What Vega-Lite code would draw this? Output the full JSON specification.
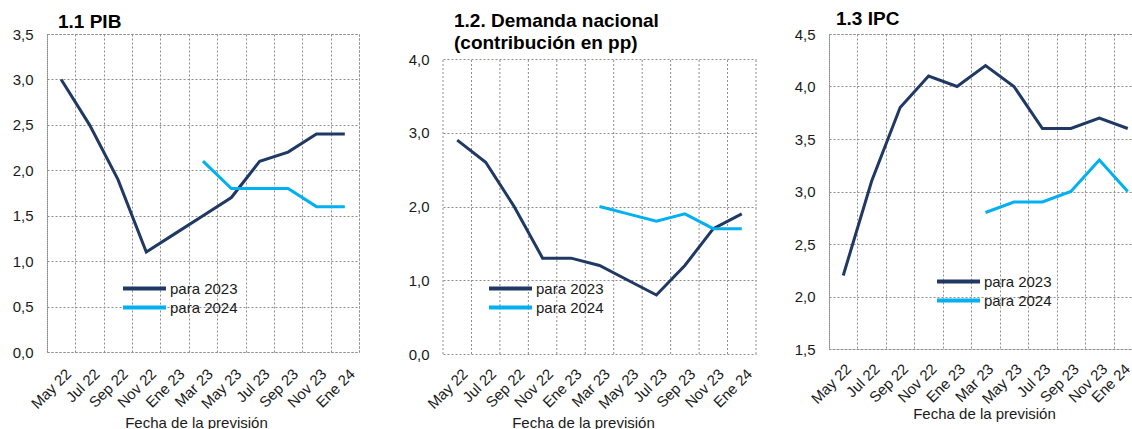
{
  "$schema": "https://vega.github.io/schema/vega-lite/v6.json",
  "padding": {"left": 8, "top": 9, "right": 0, "bottom": 0},
  "background": "white",
  "spacing": 10,
  "config": {
    "font": "Liberation Sans",
    "view": {"stroke": "#8c8c8c", "strokeDash": [2, 2], "strokeWidth": 1},
    "axis": {
      "labelFont": "Liberation Sans",
      "labelFontSize": 15,
      "labelColor": "#1a1a1a",
      "titleFont": "Liberation Sans",
      "titleFontSize": 15,
      "titleFontWeight": "normal",
      "titleColor": "#1a1a1a",
      "domain": false,
      "ticks": false,
      "grid": true,
      "gridColor": "#8c8c8c",
      "gridDash": [2, 2],
      "gridWidth": 1,
      "gridOpacity": 1
    },
    "title": {"font": "Liberation Sans", "fontSize": 19, "fontWeight": "bold", "color": "#000000", "anchor": "start", "frame": "group", "dx": 11, "lineHeight": 22, "baseline": "alphabetic"},
    "legend": {
      "orient": "none",
      "title": null,
      "symbolType": "M-3,0H3",
      "symbolSize": 205,
      "symbolStrokeWidth": 4,
      "labelFont": "Liberation Sans",
      "labelFontSize": 15,
      "labelColor": "#1a1a1a",
      "labelOffset": 16,
      "rowPadding": 1,
      "padding": 0
    }
  },
  "datasets": {
    "pib": [
      {"fecha": "May 22", "serie": "para 2023", "valor": 3.0},
      {"fecha": "Jul 22", "serie": "para 2023", "valor": 2.5},
      {"fecha": "Sep 22", "serie": "para 2023", "valor": 1.9},
      {"fecha": "Nov 22", "serie": "para 2023", "valor": 1.1},
      {"fecha": "Ene 23", "serie": "para 2023", "valor": 1.3},
      {"fecha": "Mar 23", "serie": "para 2023", "valor": 1.5},
      {"fecha": "May 23", "serie": "para 2023", "valor": 1.7},
      {"fecha": "Jul 23", "serie": "para 2023", "valor": 2.1},
      {"fecha": "Sep 23", "serie": "para 2023", "valor": 2.2},
      {"fecha": "Nov 23", "serie": "para 2023", "valor": 2.4},
      {"fecha": "Ene 24", "serie": "para 2023", "valor": 2.4},
      {"fecha": "Mar 23", "serie": "para 2024", "valor": 2.1},
      {"fecha": "May 23", "serie": "para 2024", "valor": 1.8},
      {"fecha": "Jul 23", "serie": "para 2024", "valor": 1.8},
      {"fecha": "Sep 23", "serie": "para 2024", "valor": 1.8},
      {"fecha": "Nov 23", "serie": "para 2024", "valor": 1.6},
      {"fecha": "Ene 24", "serie": "para 2024", "valor": 1.6}
    ],
    "dn": [
      {"fecha": "May 22", "serie": "para 2023", "valor": 2.9},
      {"fecha": "Jul 22", "serie": "para 2023", "valor": 2.6},
      {"fecha": "Sep 22", "serie": "para 2023", "valor": 2.0},
      {"fecha": "Nov 22", "serie": "para 2023", "valor": 1.3},
      {"fecha": "Ene 23", "serie": "para 2023", "valor": 1.3},
      {"fecha": "Mar 23", "serie": "para 2023", "valor": 1.2},
      {"fecha": "May 23", "serie": "para 2023", "valor": 1.0},
      {"fecha": "Jul 23", "serie": "para 2023", "valor": 0.8},
      {"fecha": "Sep 23", "serie": "para 2023", "valor": 1.2},
      {"fecha": "Nov 23", "serie": "para 2023", "valor": 1.7},
      {"fecha": "Ene 24", "serie": "para 2023", "valor": 1.9},
      {"fecha": "Mar 23", "serie": "para 2024", "valor": 2.0},
      {"fecha": "May 23", "serie": "para 2024", "valor": 1.9},
      {"fecha": "Jul 23", "serie": "para 2024", "valor": 1.8},
      {"fecha": "Sep 23", "serie": "para 2024", "valor": 1.9},
      {"fecha": "Nov 23", "serie": "para 2024", "valor": 1.7},
      {"fecha": "Ene 24", "serie": "para 2024", "valor": 1.7}
    ],
    "ipc": [
      {"fecha": "May 22", "serie": "para 2023", "valor": 2.2},
      {"fecha": "Jul 22", "serie": "para 2023", "valor": 3.1},
      {"fecha": "Sep 22", "serie": "para 2023", "valor": 3.8},
      {"fecha": "Nov 22", "serie": "para 2023", "valor": 4.1},
      {"fecha": "Ene 23", "serie": "para 2023", "valor": 4.0},
      {"fecha": "Mar 23", "serie": "para 2023", "valor": 4.2},
      {"fecha": "May 23", "serie": "para 2023", "valor": 4.0},
      {"fecha": "Jul 23", "serie": "para 2023", "valor": 3.6},
      {"fecha": "Sep 23", "serie": "para 2023", "valor": 3.6},
      {"fecha": "Nov 23", "serie": "para 2023", "valor": 3.7},
      {"fecha": "Ene 24", "serie": "para 2023", "valor": 3.6},
      {"fecha": "Mar 23", "serie": "para 2024", "valor": 2.8},
      {"fecha": "May 23", "serie": "para 2024", "valor": 2.9},
      {"fecha": "Jul 23", "serie": "para 2024", "valor": 2.9},
      {"fecha": "Sep 23", "serie": "para 2024", "valor": 3.0},
      {"fecha": "Nov 23", "serie": "para 2024", "valor": 3.3},
      {"fecha": "Ene 24", "serie": "para 2024", "valor": 3.0}
    ]
  },
  "resolve": {
    "scale": {"x": "independent", "y": "independent", "color": "independent"},
    "legend": {"color": "independent"}
  },
  "hconcat": [
    {
      "width": 312,
      "height": 318,
      "title": {"text": "1.1 PIB", "offset": -5},
      "data": {"name": "pib"},
      "mark": {"type": "line", "strokeWidth": 3},
      "encoding": {
        "x": {
          "field": "fecha", "type": "ordinal",
          "scale": {"type": "band", "padding": 0, "domain": ["May 22","Jul 22","Sep 22","Nov 22","Ene 23","Mar 23","May 23","Jul 23","Sep 23","Nov 23","Ene 24"]},
          "axis": {"title": "Fecha de la previsión", "labelAngle": -45, "labelAlign": "right", "labelBaseline": "top", "labelPadding": 14, "labelOffset": 2, "tickBand": "extent", "grid": true, "titleX": 149, "titleY": 70, "titleBaseline": "middle", "titleAnchor": "middle"}
        },
        "y": {
          "field": "valor", "type": "quantitative",
          "scale": {"domain": [0, 3.5], "nice": false, "zero": false},
          "axis": {"title": null, "values": [0, 0.5, 1, 1.5, 2, 2.5, 3, 3.5], "labelExpr": "replace(format(datum.value, '.1f'), '.', ',')", "labelPadding": 14, "minExtent": 38, "maxExtent": 38, "grid": true}
        },
        "color": {
          "field": "serie", "type": "nominal",
          "scale": {"domain": ["para 2023", "para 2024"], "range": ["#1f3864", "#00b0f0"]},
          "legend": {"legendX": 88, "legendY": 245}
        }
      }
    },
    {
      "width": 313,
      "height": 320,
      "view": {"stroke": null},
      "title": {"text": ["1.2. Demanda nacional", "(contribución en pp)"], "offset": -18.5},
      "data": {"name": "dn"},
      "layer": [
        {
          "transform": [{"filter": "datum.serie === 'para 2023'"}],
          "mark": {"type": "rule", "color": "#8c8c8c", "strokeDash": [2, 2], "strokeWidth": 1},
          "encoding": {
            "x": {"field": "fecha", "type": "ordinal", "bandPosition": 0,
              "axis": {"title": "Fecha de la previsión", "labelAngle": -45, "labelAlign": "right", "labelBaseline": "top", "labelPadding": 12, "labelOffset": 3, "grid": false, "titleX": 140, "titleY": 68, "titleBaseline": "middle", "titleAnchor": "middle"}},
            "y": {"datum": 0, "type": "quantitative",
              "axis": {"title": null, "values": [0, 1, 2, 3, 4], "labelExpr": "replace(format(datum.value, '.1f'), '.', ',')", "labelPadding": 14, "minExtent": 73, "maxExtent": 73, "grid": true}},
            "y2": {"datum": 4}
          }
        },
        {
          "transform": [{"filter": "datum.serie === 'para 2023' && datum.fecha === 'Ene 24'"}],
          "mark": {"type": "rule", "color": "#8c8c8c", "strokeDash": [2, 2], "strokeWidth": 1},
          "encoding": {
            "x": {"field": "fecha", "type": "ordinal", "bandPosition": 1,
              "axis": {"title": "Fecha de la previsión", "labelAngle": -45, "labelAlign": "right", "labelBaseline": "top", "labelPadding": 12, "labelOffset": 3, "grid": false, "titleX": 140, "titleY": 68, "titleBaseline": "middle", "titleAnchor": "middle"}},
            "y": {"datum": 0, "type": "quantitative",
              "axis": {"title": null, "values": [0, 1, 2, 3, 4], "labelExpr": "replace(format(datum.value, '.1f'), '.', ',')", "labelPadding": 14, "minExtent": 73, "maxExtent": 73, "grid": true}},
            "y2": {"datum": 4}
          }
        },
        {
          "mark": {"type": "line", "strokeWidth": 3},
          "encoding": {
            "x": {
              "field": "fecha", "type": "ordinal",
              "scale": {"type": "band", "padding": 0, "domain": ["May 22","Jul 22","Sep 22","Nov 22","Ene 23","Mar 23","May 23","Jul 23","Sep 23","Nov 23","Ene 24"]},
              "axis": {"title": "Fecha de la previsión", "labelAngle": -45, "labelAlign": "right", "labelBaseline": "top", "labelPadding": 12, "labelOffset": 3, "grid": false, "titleX": 140, "titleY": 68, "titleBaseline": "middle", "titleAnchor": "middle"}
            },
            "y": {
              "field": "valor", "type": "quantitative",
              "scale": {"domain": [0, 4.339], "nice": false, "zero": false},
              "axis": {"title": null, "values": [0, 1, 2, 3, 4], "labelExpr": "replace(format(datum.value, '.1f'), '.', ',')", "labelPadding": 14, "minExtent": 73, "maxExtent": 73, "grid": true}
            },
            "color": {
              "field": "serie", "type": "nominal",
              "scale": {"domain": ["para 2023", "para 2024"], "range": ["#1f3864", "#00b0f0"]},
              "legend": {"legendX": 58, "legendY": 245}
            }
          }
        }
      ]
    },
    {
      "width": 313,
      "height": 315,
      "title": {"text": "1.3 IPC", "offset": -2, "dx": 7},
      "data": {"name": "ipc"},
      "mark": {"type": "line", "strokeWidth": 3},
      "encoding": {
        "x": {
          "field": "fecha", "type": "ordinal",
          "scale": {"type": "band", "padding": 0, "domain": ["May 22","Jul 22","Sep 22","Nov 22","Ene 23","Mar 23","May 23","Jul 23","Sep 23","Nov 23","Ene 24"]},
          "axis": {"title": "Fecha de la previsión", "labelAngle": -45, "labelAlign": "right", "labelBaseline": "top", "labelPadding": 12, "labelOffset": {"condition": {"test": "datum.value === 'Ene 24'", "value": -5.5}, "value": 0}, "tickBand": "extent", "grid": true, "titleX": 155, "titleY": 64, "titleBaseline": "middle", "titleAnchor": "middle"}
        },
        "y": {
          "field": "valor", "type": "quantitative",
          "scale": {"domain": [1.5, 4.5], "nice": false, "zero": false},
          "axis": {"title": null, "values": [1.5, 2, 2.5, 3, 3.5, 4, 4.5], "labelExpr": "replace(format(datum.value, '.1f'), '.', ',')", "labelPadding": 14, "minExtent": 61, "maxExtent": 61, "grid": true}
        },
        "color": {
          "field": "serie", "type": "nominal",
          "scale": {"domain": ["para 2023", "para 2024"], "range": ["#1f3864", "#00b0f0"]},
          "legend": {"legendX": 120, "legendY": 238}
        }
      }
    }
  ]
}
